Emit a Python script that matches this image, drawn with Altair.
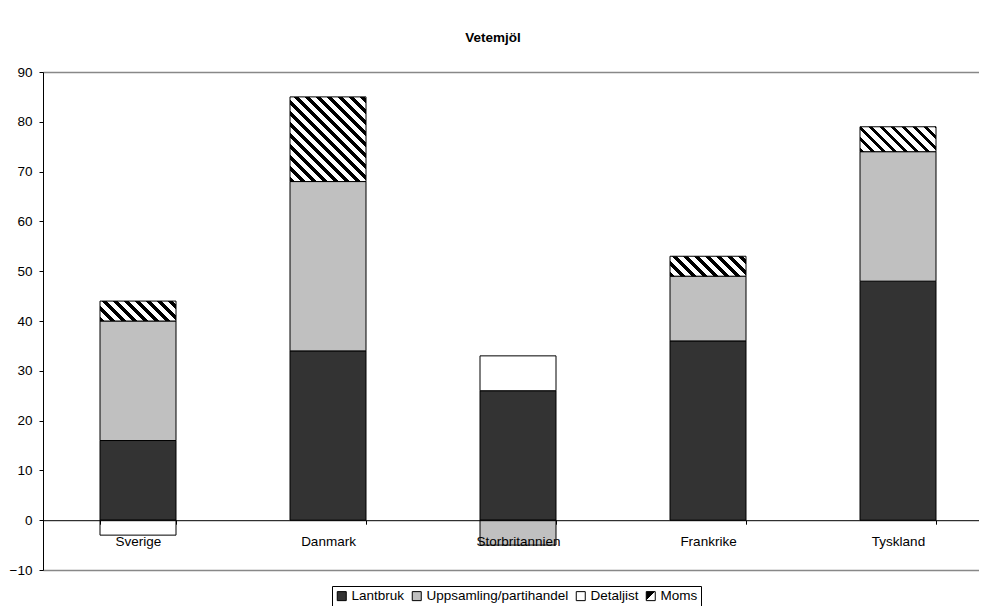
import altair as alt
import pandas as pd

# ---- data ----
countries = ["Sverige", "Danmark", "Storbritannien", "Frankrike", "Tyskland"]
series = ["Lantbruk", "Uppsamling/partihandel", "Detaljist", "Moms"]
lantbruk = [16, 34, 26, 36, 48]
uppsamling = [24, 34, -5, 13, 26]
detaljist = [-3, 0, 7, 0, 0]
moms = [4, 17, 0, 4, 5]
colors = ["#333333", "#C0C0C0", "#FFFFFF"]
y_ticks = [-10, 0, 10, 20, 30, 40, 50, 60, 70, 80, 90]

# ---- layout / style constants ----
PLOT_W = 936
PLOT_H = 498
Y_MIN, Y_MAX = -10, 90
STEP = 190
BAR_W = 76
FONT = "Liberation Sans"
FS = 13.5

values = {"Lantbruk": lantbruk, "Uppsamling/partihandel": uppsamling,
          "Detaljist": detaljist, "Moms": moms}

rows = []
for i, c in enumerate(countries):
    pos, neg = 0, 0
    for s in series:
        v = values[s][i]
        if v == 0:
            continue
        if v > 0:
            y0, y1 = pos, pos + v
            pos = y1
        else:
            y0, y1 = neg, neg + v
            neg = y1
        rows.append({"country": c, "series": s, "y0": y0, "y1": y1})

df = pd.DataFrame(rows)
base_df = df[df["series"] != "Moms"]


def hatch(h_px, w_px=BAR_W, period=11.0, frac=0.42):
    s = (w_px + h_px) / (w_px * w_px + h_px * h_px)
    n = (w_px + h_px) / period
    stops = []
    k = 0
    while k < n:
        a = k / n
        b = min((k + frac) / n, 1.0)
        c = min((k + 1) / n, 1.0)
        stops += [{"offset": a, "color": "#000000"},
                  {"offset": b, "color": "#000000"},
                  {"offset": b, "color": "#ffffff"},
                  {"offset": c, "color": "#ffffff"}]
        k += 1
    return {"gradient": "linear", "x1": 0, "y1": 1,
            "x2": s * w_px, "y2": 1 - s * h_px, "stops": stops}


px_per_unit = PLOT_H / (Y_MAX - Y_MIN)
moms_records = []
for r in rows:
    if r["series"] == "Moms":
        h = abs(r["y1"] - r["y0"]) * px_per_unit
        moms_records.append({"country": r["country"], "y0": r["y0"],
                             "y1": r["y1"], "grad": hatch(h)})

legend_moms = ("{gradient: 'linear', x1: 0, y1: 0, x2: 1, y2: 1, stops: ["
               "{offset: 0, color: '#000000'}, {offset: 0.5, color: '#000000'},"
               "{offset: 0.5, color: '#ffffff'}, {offset: 1, color: '#ffffff'}]}")

x_enc = alt.X(
    "country:N", sort=countries, title=None,
    scale=alt.Scale(range=[0, STEP * 5], paddingInner=0.6, paddingOuter=0.3),
    axis=alt.Axis(labelAngle=0, tickBand="extent",
                  offset=-PLOT_H * (0 - Y_MIN) / (Y_MAX - Y_MIN),
                  tickSize=4, labelPadding=10, labelFontSize=FS, labelFont=FONT,
                  labelColor="black", domainColor="black", tickColor="black",
                  domainWidth=1, tickWidth=1, zindex=1, grid=False),
)

y_enc = alt.Y(
    "y0:Q", title=None,
    scale=alt.Scale(domain=[Y_MIN, Y_MAX], nice=False, zero=False),
    axis=alt.Axis(values=y_ticks, tickSize=4, labelPadding=7, labelFontSize=FS,
                  labelFont=FONT, labelColor="black", domainColor="black",
                  tickColor="black", labelFlush=False, zindex=1,
                  grid=True, gridColor="#888888", gridWidth=1.5,
                  gridOpacity={"condition": {"test": "datum.value == 90 || datum.value == -10",
                                             "value": 1}, "value": 0}),
)

bars = alt.Chart(base_df).mark_bar(stroke="black", strokeWidth=1, opacity=1).encode(
    x=x_enc,
    y=y_enc,
    y2="y1:Q",
    color=alt.Color(
        "series:N",
        scale=alt.Scale(domain=series, range=colors + [{"expr": legend_moms}]),
        legend=alt.Legend(orient="none", legendX=289, legendY=514,
                          direction="horizontal", title=None,
                          symbolType="square", symbolSize=81,
                          symbolStrokeColor="black", symbolStrokeWidth=1,
                          symbolOpacity=1,
                          labelFontSize=FS, labelFont=FONT, labelColor="black",
                          labelOffset=3, columnPadding=5, padding=3,
                          strokeColor="black", fillColor="white", labelLimit=500),
    ),
)

hatched = alt.Chart(alt.Data(values=moms_records)).mark_bar(
    stroke="black", strokeWidth=1, opacity=1
).encode(
    x=x_enc,
    y=alt.Y("y0:Q", scale=alt.Scale(domain=[Y_MIN, Y_MAX], nice=False, zero=False)),
    y2="y1:Q",
    fill=alt.Fill("grad:N", scale=None),
)

chart = alt.layer(bars, hatched).properties(
    width=PLOT_W,
    height=PLOT_H,
    autosize=alt.AutoSizeParams(type="none"),
    padding={"left": 35, "top": 64, "right": 0, "bottom": 36},
    title=alt.TitleParams("Vetemjöl", fontSize=FS, fontWeight="bold", font=FONT,
                          anchor="middle", offset=10, dx=-18, baseline="alphabetic",
                          color="black", frame="group"),
).configure_view(stroke=None).configure(font=FONT, background="white")

chart.save("out.html", embed_options={"renderer": "svg", "actions": False})
